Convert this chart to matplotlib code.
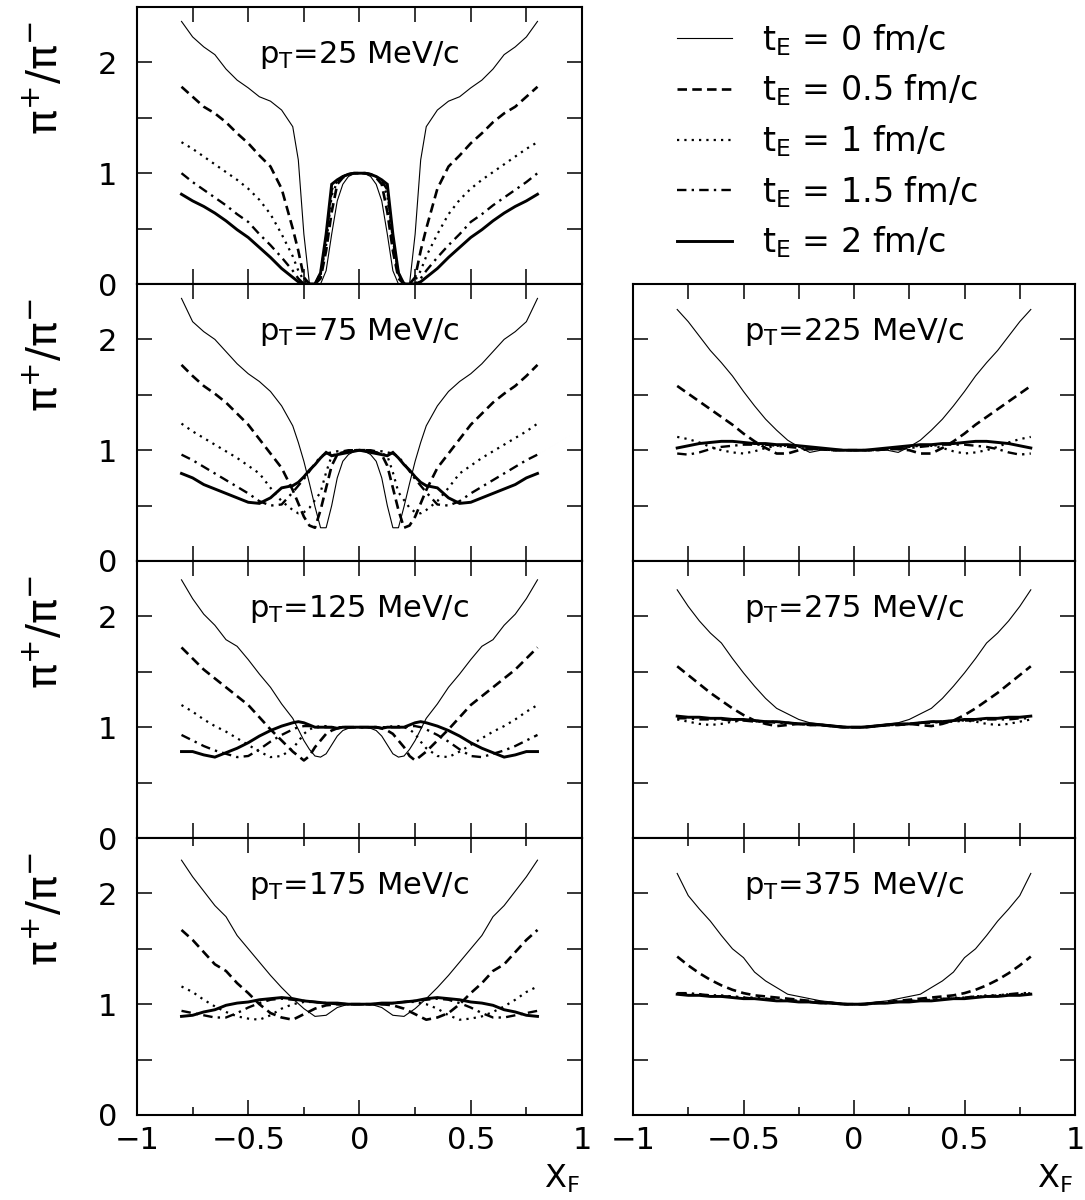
import matplotlib
matplotlib.use('Agg')
import matplotlib.pyplot as plt
from matplotlib.ticker import MultipleLocator, FixedLocator, FixedFormatter

# ---------------- data ----------------
X_FINE = [-0.8, -0.75, -0.7, -0.65, -0.6, -0.55, -0.5, -0.45, -0.4, -0.35, -0.3, -0.275,
          -0.25, -0.225, -0.2, -0.175, -0.15, -0.125, -0.1, -0.075, -0.05, -0.025, 0.0,
          0.025, 0.05, 0.075, 0.1, 0.125, 0.15, 0.175, 0.2, 0.225, 0.25, 0.275, 0.3,
          0.35, 0.4, 0.45, 0.5, 0.55, 0.6, 0.65, 0.7, 0.75, 0.8]
X_COARSE = [-0.8, -0.75, -0.7, -0.65, -0.6, -0.55, -0.5, -0.45, -0.4, -0.35, -0.3, -0.25,
            -0.2, -0.15, -0.1, -0.05, 0.0, 0.05, 0.1, 0.15, 0.2, 0.25, 0.3, 0.35, 0.4,
            0.45, 0.5, 0.55, 0.6, 0.65, 0.7, 0.75, 0.8]

# pT = 25 MeV/c
P25_T0 = [2.37, 2.23, 2.14, 2.07, 1.94, 1.84, 1.77, 1.69, 1.65, 1.57, 1.42, 1.12, 0.45, 0.0, 0.0, 0.0, 0.12, 0.45, 0.75, 0.90, 0.97, 0.995, 1.0,
          0.995, 0.97, 0.90, 0.75, 0.45, 0.12, 0.0, 0.0, 0.0, 0.45, 1.12, 1.42, 1.57, 1.65, 1.69, 1.77, 1.84, 1.94, 2.07, 2.14, 2.23, 2.37]
P25_T05 = [1.78, 1.69, 1.60, 1.54, 1.46, 1.36, 1.27, 1.16, 1.06, 0.86, 0.50, 0.30, 0.06, 0.0, 0.0, 0.05, 0.30, 0.65, 0.90, 0.96, 0.99, 1.0, 1.0,
           1.0, 0.99, 0.96, 0.90, 0.65, 0.30, 0.05, 0.0, 0.0, 0.06, 0.30, 0.50, 0.86, 1.06, 1.16, 1.27, 1.36, 1.46, 1.54, 1.60, 1.69, 1.78]
P25_T1 = [1.28, 1.22, 1.15, 1.08, 1.01, 0.94, 0.86, 0.76, 0.63, 0.45, 0.25, 0.12, 0.03, 0.0, 0.0, 0.08, 0.35, 0.80, 0.92, 0.97, 0.99, 1.0, 1.0,
          1.0, 0.99, 0.97, 0.92, 0.80, 0.35, 0.08, 0.0, 0.0, 0.03, 0.12, 0.25, 0.45, 0.63, 0.76, 0.86, 0.94, 1.01, 1.08, 1.15, 1.22, 1.28]
P25_T15 = [1.0, 0.92, 0.85, 0.78, 0.71, 0.63, 0.56, 0.45, 0.35, 0.24, 0.12, 0.05, 0.0, 0.0, 0.0, 0.10, 0.40, 0.85, 0.93, 0.97, 0.99, 1.0, 1.0,
           1.0, 0.99, 0.97, 0.93, 0.85, 0.40, 0.10, 0.0, 0.0, 0.0, 0.05, 0.12, 0.24, 0.35, 0.45, 0.56, 0.63, 0.71, 0.78, 0.85, 0.92, 1.0]
P25_T2 = [0.81, 0.75, 0.70, 0.64, 0.57, 0.49, 0.42, 0.33, 0.24, 0.14, 0.06, 0.02, 0.0, 0.0, 0.0, 0.10, 0.45, 0.90, 0.94, 0.97, 0.99, 1.0, 1.0,
          1.0, 0.99, 0.97, 0.94, 0.90, 0.45, 0.10, 0.0, 0.0, 0.0, 0.02, 0.06, 0.14, 0.24, 0.33, 0.42, 0.49, 0.57, 0.64, 0.70, 0.75, 0.81]

# pT = 75 MeV/c
P75_T0 = [2.37, 2.16, 2.07, 2.00, 1.89, 1.78, 1.69, 1.62, 1.53, 1.40, 1.22, 1.07, 0.90, 0.70, 0.49, 0.30, 0.30, 0.50, 0.75, 0.90, 0.96, 0.99, 1.0,
          0.99, 0.96, 0.90, 0.75, 0.50, 0.30, 0.30, 0.49, 0.70, 0.90, 1.07, 1.22, 1.40, 1.53, 1.62, 1.69, 1.78, 1.89, 2.00, 2.07, 2.16, 2.37]
P75_T05 = [1.77, 1.67, 1.58, 1.51, 1.43, 1.33, 1.23, 1.10, 0.97, 0.84, 0.64, 0.52, 0.40, 0.32, 0.30, 0.46, 0.66, 0.86, 0.96, 0.98, 0.99, 1.0, 1.0,
           1.0, 0.99, 0.98, 0.96, 0.86, 0.66, 0.46, 0.30, 0.32, 0.40, 0.52, 0.64, 0.84, 0.97, 1.10, 1.23, 1.33, 1.43, 1.51, 1.58, 1.67, 1.77]
P75_T1 = [1.24, 1.17, 1.11, 1.05, 0.99, 0.93, 0.86, 0.79, 0.66, 0.54, 0.46, 0.43, 0.44, 0.48, 0.55, 0.62, 0.80, 0.95, 0.97, 0.98, 0.99, 1.0, 1.0,
          1.0, 0.99, 0.98, 0.97, 0.95, 0.80, 0.62, 0.55, 0.48, 0.44, 0.43, 0.46, 0.54, 0.66, 0.79, 0.86, 0.93, 0.99, 1.05, 1.11, 1.17, 1.24]
P75_T15 = [0.96, 0.91, 0.85, 0.79, 0.73, 0.67, 0.61, 0.54, 0.50, 0.51, 0.62, 0.68, 0.74, 0.81, 0.88, 0.94, 0.97, 0.98, 0.99, 0.99, 1.0, 1.0, 1.0,
           1.0, 1.0, 0.99, 0.99, 0.98, 0.97, 0.94, 0.88, 0.81, 0.74, 0.68, 0.62, 0.51, 0.50, 0.54, 0.61, 0.67, 0.73, 0.79, 0.85, 0.91, 0.96]
P75_T2 = [0.79, 0.75, 0.69, 0.65, 0.61, 0.57, 0.53, 0.52, 0.57, 0.66, 0.68, 0.71, 0.76, 0.82, 0.87, 0.93, 0.98, 0.95, 0.96, 0.97, 0.98, 0.99, 1.0,
          0.99, 0.98, 0.97, 0.96, 0.95, 0.98, 0.93, 0.87, 0.82, 0.76, 0.71, 0.68, 0.66, 0.57, 0.52, 0.53, 0.57, 0.61, 0.65, 0.69, 0.75, 0.79]

# pT = 125 MeV/c
P125_T0 = [2.33, 2.16, 2.02, 1.92, 1.79, 1.73, 1.61, 1.48, 1.36, 1.21, 1.08, 0.98, 0.88, 0.80, 0.74, 0.73, 0.76, 0.84, 0.92, 0.97, 0.99, 1.0, 1.0,
           1.0, 0.99, 0.97, 0.92, 0.84, 0.76, 0.73, 0.74, 0.80, 0.88, 0.98, 1.08, 1.21, 1.36, 1.48, 1.61, 1.73, 1.79, 1.92, 2.02, 2.16, 2.33]
P125_T05 = [1.72, 1.62, 1.52, 1.44, 1.36, 1.28, 1.20, 1.09, 0.98, 0.88, 0.78, 0.74, 0.70, 0.74, 0.82, 0.88, 0.94, 0.97, 0.99, 1.0, 1.0, 1.0, 1.0,
            1.0, 1.0, 1.0, 0.99, 0.97, 0.94, 0.88, 0.82, 0.74, 0.70, 0.74, 0.78, 0.88, 0.98, 1.09, 1.20, 1.28, 1.36, 1.44, 1.52, 1.62, 1.72]
P125_T1 = [1.20, 1.14, 1.07, 1.01, 0.96, 0.90, 0.84, 0.78, 0.73, 0.74, 0.81, 0.87, 0.94, 0.98, 1.0, 1.01, 1.01, 1.0, 1.0, 1.0, 1.0, 1.0, 1.0,
           1.0, 1.0, 1.0, 1.0, 1.0, 1.01, 1.01, 1.0, 0.98, 0.94, 0.87, 0.81, 0.74, 0.73, 0.78, 0.84, 0.90, 0.96, 1.01, 1.07, 1.14, 1.20]
P125_T15 = [0.93, 0.88, 0.83, 0.79, 0.76, 0.73, 0.74, 0.80, 0.87, 0.93, 0.98, 1.0, 1.01, 1.01, 1.0, 1.0, 1.0, 1.0, 1.0, 1.0, 1.0, 1.0, 1.0,
            1.0, 1.0, 1.0, 1.0, 1.0, 1.0, 1.0, 1.0, 1.01, 1.01, 1.0, 0.98, 0.93, 0.87, 0.80, 0.74, 0.73, 0.76, 0.79, 0.83, 0.88, 0.93]
P125_T2 = [0.78, 0.78, 0.75, 0.73, 0.77, 0.81, 0.86, 0.92, 0.97, 1.01, 1.04, 1.05, 1.04, 1.02, 1.0, 1.0, 1.0, 1.0, 0.99, 1.0, 1.0, 1.0, 1.0,
           1.0, 1.0, 1.0, 0.99, 1.0, 1.0, 1.0, 1.0, 1.02, 1.04, 1.05, 1.04, 1.01, 0.97, 0.92, 0.86, 0.81, 0.77, 0.73, 0.75, 0.78, 0.78]

# pT = 175 MeV/c
P175_T0 = [2.30, 2.15, 2.02, 1.89, 1.79, 1.62, 1.50, 1.38, 1.26, 1.15, 1.05, 0.96, 0.89, 0.90, 0.97, 1.0, 1.0,
           1.0, 0.97, 0.90, 0.89, 0.96, 1.05, 1.15, 1.26, 1.38, 1.50, 1.62, 1.79, 1.89, 2.02, 2.15, 2.30]
P175_T05 = [1.67, 1.58, 1.47, 1.36, 1.30, 1.19, 1.10, 1.00, 0.92, 0.88, 0.86, 0.91, 0.96, 0.99, 1.0, 1.0, 1.0,
            1.0, 1.0, 0.99, 0.96, 0.91, 0.86, 0.88, 0.92, 1.00, 1.10, 1.19, 1.30, 1.36, 1.47, 1.58, 1.67]
P175_T1 = [1.16, 1.11, 1.04, 0.98, 0.93, 0.89, 0.87, 0.86, 0.90, 0.96, 1.0, 1.02, 1.02, 1.01, 1.0, 1.0, 1.0,
           1.0, 1.0, 1.01, 1.02, 1.02, 1.0, 0.96, 0.90, 0.86, 0.87, 0.89, 0.93, 0.98, 1.04, 1.11, 1.16]
P175_T15 = [0.94, 0.92, 0.90, 0.88, 0.88, 0.92, 0.97, 1.01, 1.04, 1.05, 1.04, 1.03, 1.02, 1.01, 1.0, 1.0, 1.0,
            1.0, 1.0, 1.01, 1.02, 1.03, 1.04, 1.05, 1.04, 1.01, 0.97, 0.92, 0.88, 0.88, 0.90, 0.92, 0.94]
P175_T2 = [0.89, 0.90, 0.93, 0.95, 0.99, 1.01, 1.02, 1.04, 1.05, 1.06, 1.05, 1.03, 1.02, 1.01, 1.01, 1.0, 1.0,
           1.0, 1.01, 1.01, 1.02, 1.03, 1.05, 1.06, 1.05, 1.04, 1.02, 1.01, 0.99, 0.95, 0.93, 0.90, 0.89]

# pT = 225 MeV/c
P225_T0 = [2.27, 2.16, 2.03, 1.90, 1.79, 1.67, 1.53, 1.40, 1.28, 1.18, 1.09, 1.03, 0.98, 1.0, 1.0, 1.0, 1.0,
           1.0, 1.0, 1.0, 0.98, 1.03, 1.09, 1.18, 1.28, 1.40, 1.53, 1.67, 1.79, 1.90, 2.03, 2.16, 2.27]
P225_T05 = [1.58, 1.51, 1.44, 1.37, 1.30, 1.23, 1.15, 1.08, 1.02, 0.97, 0.97, 1.0, 1.01, 1.01, 1.0, 1.0, 1.0,
            1.0, 1.0, 1.01, 1.01, 1.0, 0.97, 0.97, 1.02, 1.08, 1.15, 1.23, 1.30, 1.37, 1.44, 1.51, 1.58]
P225_T1 = [1.12, 1.10, 1.07, 1.03, 1.0, 0.98, 0.97, 0.99, 1.02, 1.04, 1.04, 1.03, 1.02, 1.01, 1.0, 1.0, 1.0,
           1.0, 1.0, 1.01, 1.02, 1.03, 1.04, 1.04, 1.02, 0.99, 0.97, 0.98, 1.0, 1.03, 1.07, 1.10, 1.12]
P225_T15 = [0.97, 0.96, 0.98, 1.01, 1.03, 1.04, 1.05, 1.05, 1.05, 1.04, 1.03, 1.02, 1.01, 1.01, 1.0, 1.0, 1.0,
            1.0, 1.0, 1.01, 1.01, 1.02, 1.03, 1.04, 1.05, 1.05, 1.05, 1.04, 1.03, 1.01, 0.98, 0.96, 0.97]
P225_T2 = [1.02, 1.04, 1.06, 1.07, 1.08, 1.08, 1.07, 1.06, 1.06, 1.05, 1.05, 1.04, 1.03, 1.02, 1.01, 1.0, 1.0,
           1.0, 1.01, 1.02, 1.03, 1.04, 1.05, 1.05, 1.06, 1.06, 1.07, 1.08, 1.08, 1.07, 1.06, 1.04, 1.02]

# pT = 275 MeV/c
P275_T0 = [2.24, 2.09, 1.96, 1.85, 1.76, 1.62, 1.49, 1.37, 1.26, 1.17, 1.12, 1.07, 1.04, 1.03, 1.02, 1.01, 1.0,
           1.01, 1.02, 1.03, 1.04, 1.07, 1.12, 1.17, 1.26, 1.37, 1.49, 1.62, 1.76, 1.85, 1.96, 2.09, 2.24]
P275_T05 = [1.55, 1.47, 1.39, 1.31, 1.24, 1.17, 1.11, 1.06, 1.03, 1.01, 1.02, 1.03, 1.02, 1.02, 1.01, 1.0, 1.0,
            1.0, 1.01, 1.02, 1.02, 1.03, 1.02, 1.01, 1.03, 1.06, 1.11, 1.17, 1.24, 1.31, 1.39, 1.47, 1.55]
P275_T1 = [1.07, 1.05, 1.03, 1.02, 1.03, 1.05, 1.06, 1.06, 1.05, 1.05, 1.04, 1.03, 1.02, 1.02, 1.01, 1.0, 1.0,
           1.0, 1.01, 1.02, 1.02, 1.03, 1.04, 1.05, 1.05, 1.06, 1.06, 1.05, 1.03, 1.02, 1.03, 1.05, 1.07]
P275_T15 = [1.08, 1.08, 1.07, 1.07, 1.07, 1.06, 1.06, 1.05, 1.05, 1.04, 1.04, 1.03, 1.02, 1.02, 1.01, 1.0, 1.0,
            1.0, 1.01, 1.02, 1.02, 1.03, 1.04, 1.04, 1.05, 1.05, 1.06, 1.06, 1.07, 1.07, 1.07, 1.08, 1.08]
P275_T2 = [1.10, 1.09, 1.09, 1.08, 1.08, 1.07, 1.07, 1.06, 1.05, 1.05, 1.04, 1.03, 1.03, 1.02, 1.01, 1.0, 1.0,
           1.0, 1.01, 1.02, 1.03, 1.03, 1.04, 1.05, 1.05, 1.06, 1.07, 1.07, 1.08, 1.08, 1.09, 1.09, 1.10]

# pT = 375 MeV/c
P375_T0 = [2.18, 1.98, 1.86, 1.75, 1.62, 1.50, 1.42, 1.29, 1.21, 1.15, 1.09, 1.07, 1.05, 1.03, 1.02, 1.01, 1.0,
           1.01, 1.02, 1.03, 1.05, 1.07, 1.09, 1.15, 1.21, 1.29, 1.42, 1.50, 1.62, 1.75, 1.86, 1.98, 2.18]
P375_T05 = [1.43, 1.35, 1.28, 1.22, 1.17, 1.13, 1.10, 1.08, 1.07, 1.06, 1.05, 1.04, 1.03, 1.02, 1.01, 1.0, 1.0,
            1.0, 1.01, 1.02, 1.03, 1.04, 1.05, 1.06, 1.07, 1.08, 1.10, 1.13, 1.17, 1.22, 1.28, 1.35, 1.43]
P375_T1 = [1.10, 1.09, 1.09, 1.08, 1.08, 1.07, 1.06, 1.06, 1.05, 1.04, 1.04, 1.03, 1.02, 1.02, 1.01, 1.0, 1.0,
           1.0, 1.01, 1.02, 1.02, 1.03, 1.04, 1.04, 1.05, 1.06, 1.06, 1.07, 1.08, 1.08, 1.09, 1.09, 1.10]
P375_T15 = [1.10, 1.10, 1.09, 1.08, 1.07, 1.07, 1.06, 1.05, 1.05, 1.04, 1.03, 1.03, 1.02, 1.01, 1.01, 1.0, 1.0,
            1.0, 1.01, 1.01, 1.02, 1.03, 1.03, 1.04, 1.05, 1.05, 1.06, 1.07, 1.07, 1.08, 1.09, 1.10, 1.10]
P375_T2 = [1.09, 1.08, 1.08, 1.07, 1.07, 1.06, 1.05, 1.05, 1.04, 1.03, 1.03, 1.02, 1.02, 1.01, 1.01, 1.0, 1.0,
           1.0, 1.01, 1.01, 1.02, 1.02, 1.03, 1.03, 1.04, 1.05, 1.05, 1.06, 1.07, 1.07, 1.08, 1.08, 1.09]

PT_VALUES = ['25', '75', '125', '175', '225', '275', '375']
TE_VALUES = ['0', '0.5', '1', '1.5', '2']
XTICKS = [-1, -0.5, 0, 0.5, 1]
XTICK_LABELS = ['\u22121', '\u22120.5', '0', '0.5', '1']
YTICKS = [0, 1, 2]
YTICK_LABELS = ['0', '1', '2']

# ---------------- styling ----------------
STYLES = [
    dict(linestyle='-', linewidth=0.8),
    dict(linestyle=(0, (3.6, 2.0)), linewidth=1.9),
    dict(linestyle=(0, (1.0, 2.3)), linewidth=1.6),
    dict(linestyle=(0, (4.0, 2.2, 1.0, 2.2)), linewidth=1.7),
    dict(linestyle='-', linewidth=2.1),
]

plt.rcParams['font.family'] = ['DejaVu Sans']
plt.rcParams['mathtext.default'] = 'regular'

W, H = 1085, 1200
fig = plt.figure(figsize=(W / 100, H / 100), dpi=100)

col_x = [137 / W, 633 / W]
col_w = [445 / W, 442 / W]
ah = 277 / H
row_top_px = [7, 284, 561, 838]

panels = [
    (0, 0, PT_VALUES[0], X_FINE, [P25_T0, P25_T05, P25_T1, P25_T15, P25_T2]),
    (1, 0, PT_VALUES[1], X_FINE, [P75_T0, P75_T05, P75_T1, P75_T15, P75_T2]),
    (2, 0, PT_VALUES[2], X_FINE, [P125_T0, P125_T05, P125_T1, P125_T15, P125_T2]),
    (3, 0, PT_VALUES[3], X_COARSE, [P175_T0, P175_T05, P175_T1, P175_T15, P175_T2]),
    (1, 1, PT_VALUES[4], X_COARSE, [P225_T0, P225_T05, P225_T1, P225_T15, P225_T2]),
    (2, 1, PT_VALUES[5], X_COARSE, [P275_T0, P275_T05, P275_T1, P275_T15, P275_T2]),
    (3, 1, PT_VALUES[6], X_COARSE, [P375_T0, P375_T05, P375_T1, P375_T15, P375_T2]),
]

legend_handles = None
for row, col, pt, xs, curves in panels:
    bottom = 1 - (row_top_px[row] + 277) / H
    ax = fig.add_axes([col_x[col], bottom, col_w[col], ah])
    handles = []
    for ys, st in zip(curves, STYLES):
        ln, = ax.plot(xs, ys, color='black', solid_joinstyle='miter',
                      dash_capstyle='butt', **st)
        handles.append(ln)
    if legend_handles is None:
        legend_handles = handles

    ax.set_xlim(-1, 1)
    ax.set_ylim(0, 2.5)
    ax.xaxis.set_major_locator(FixedLocator(XTICKS))
    ax.xaxis.set_minor_locator(MultipleLocator(0.25))
    ax.yaxis.set_major_locator(FixedLocator(YTICKS))
    ax.yaxis.set_minor_locator(MultipleLocator(0.5))
    minor_x_len = 6 if row == 3 else 11
    ax.tick_params(which='both', direction='in', top=True, right=True, width=1.1,
                   colors='black')
    ax.tick_params(which='major', length=11)
    ax.tick_params(axis='y', which='minor', length=11)
    ax.tick_params(axis='x', which='minor', length=minor_x_len)
    for sp in ax.spines.values():
        sp.set_linewidth(1.5)

    if col == 0:
        ax.yaxis.set_major_formatter(FixedFormatter(YTICK_LABELS))
        ax.tick_params(axis='y', labelsize=22, pad=14)
        ax.text(-0.207, 0.745, r'$\pi^{+}/\pi^{-}$', transform=ax.transAxes,
                rotation=90, fontsize=30, ha='center', va='center')
    else:
        ax.set_yticklabels([])
    if row == 3:
        ax.xaxis.set_major_formatter(FixedFormatter(XTICK_LABELS))
        ax.tick_params(axis='x', labelsize=22, pad=8)
        ax.text(0.955, -0.23, r'$X_F$', transform=ax.transAxes,
                fontsize=23, ha='center', va='center')
    else:
        ax.set_xticklabels([])

    ax.text(0.0, 2.07, r'$p_T$=' + pt + ' MeV/c', fontsize=22,
            ha='center', va='center')

labels = [r'$t_E$ = ' + t + ' fm/c' for t in TE_VALUES]
fig.legend(legend_handles, labels, loc='upper left',
           bbox_to_anchor=(677 / W, 1 - 22 / H), frameon=False, fontsize=24,
           handlelength=1.65, handletextpad=0.9, labelspacing=0.45,
           borderpad=0, borderaxespad=0)

fig.savefig('out.png', dpi=100)
